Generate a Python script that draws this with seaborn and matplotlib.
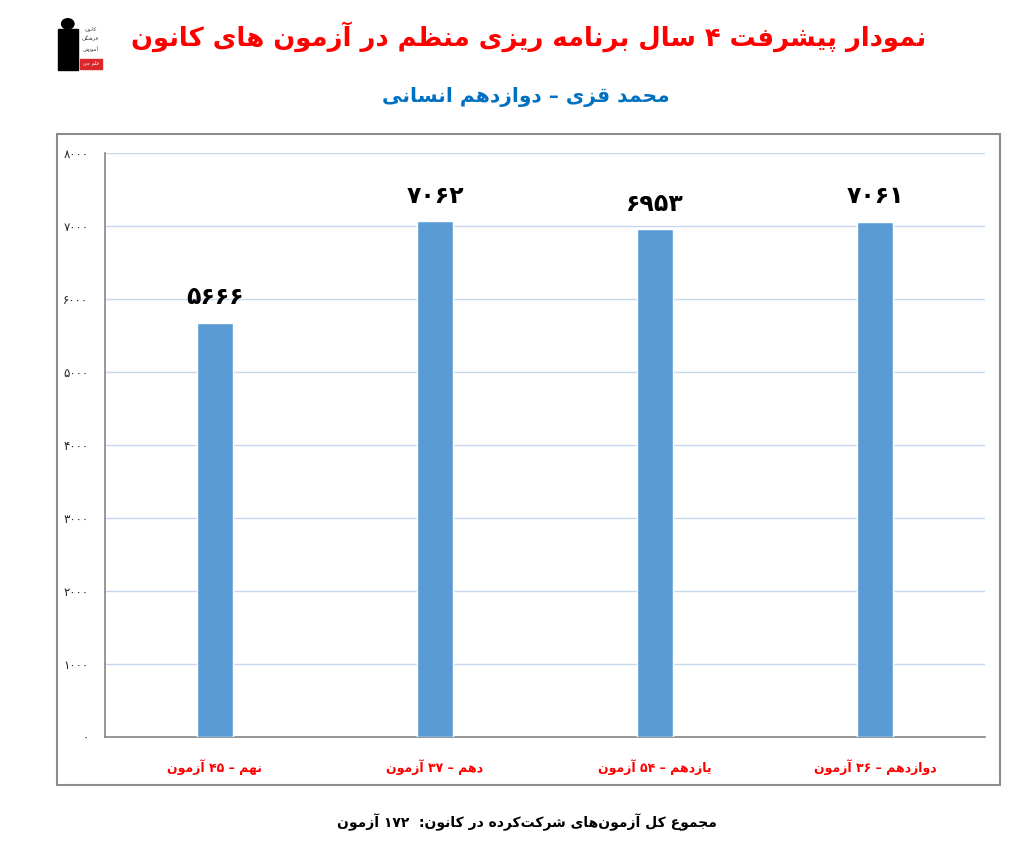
import re
import numpy as np
import pandas as pd
import matplotlib
matplotlib.use("Agg")
import matplotlib.pyplot as plt
import seaborn as sns
from matplotlib.patches import Rectangle, Circle

# داده‌ها
categories = ['نهم – ۴۵ آزمون', 'دهم – ۳۷ آزمون', 'یازدهم – ۵۴ آزمون', 'دوازدهم – ۳۶ آزمون']
scores = [5666, 7062, 6953, 7061]
yticks = [0, 1000, 2000, 3000, 4000, 5000, 6000, 7000, 8000]
title = 'نمودار پیشرفت ۴ سال برنامه ریزی منظم در آزمون های کانون'
subtitle = 'محمد قزی – دوازدهم انسانی'
footer = 'مجموع کل آزمون\u200cهای شرکت\u200cکرده در کانون:  ۱۷۲ آزمون'

# شکل‌دهی حروف فارسی (matplotlib خودش حروف را به هم نمی‌چسباند و راست به چپ نمی‌نویسد)
FORMS = {
    'ا': ('\uFE8D', '\uFE8E'), 'آ': ('\uFE81', '\uFE82'),
    'د': ('\uFEA9', '\uFEAA'), 'ر': ('\uFEAD', '\uFEAE'),
    'ز': ('\uFEAF', '\uFEB0'), 'و': ('\uFEED', '\uFEEE'),
    'ب': ('\uFE8F', '\uFE90', '\uFE91', '\uFE92'),
    'پ': ('\uFB56', '\uFB57', '\uFB58', '\uFB59'),
    'ت': ('\uFE95', '\uFE96', '\uFE97', '\uFE98'),
    'ج': ('\uFE9D', '\uFE9E', '\uFE9F', '\uFEA0'),
    'چ': ('\uFB7A', '\uFB7B', '\uFB7C', '\uFB7D'),
    'ح': ('\uFEA1', '\uFEA2', '\uFEA3', '\uFEA4'),
    'س': ('\uFEB1', '\uFEB2', '\uFEB3', '\uFEB4'),
    'ش': ('\uFEB5', '\uFEB6', '\uFEB7', '\uFEB8'),
    'ظ': ('\uFEC5', '\uFEC6', '\uFEC7', '\uFEC8'),
    'ع': ('\uFEC9', '\uFECA', '\uFECB', '\uFECC'),
    'ف': ('\uFED1', '\uFED2', '\uFED3', '\uFED4'),
    'ق': ('\uFED5', '\uFED6', '\uFED7', '\uFED8'),
    'ک': ('\uFB8E', '\uFB8F', '\uFB90', '\uFB91'),
    'گ': ('\uFB92', '\uFB93', '\uFB94', '\uFB95'),
    'ل': ('\uFEDD', '\uFEDE', '\uFEDF', '\uFEE0'),
    'م': ('\uFEE1', '\uFEE2', '\uFEE3', '\uFEE4'),
    'ن': ('\uFEE5', '\uFEE6', '\uFEE7', '\uFEE8'),
    'ه': ('\uFEE9', '\uFEEA', '\uFEEB', '\uFEEC'),
    'ی': ('\uFBFC', '\uFBFD', '\uFBFE', '\uFBFF'),
}


def shape_run(run):
    out = []
    for i, ch in enumerate(run):
        if ch not in FORMS:
            continue  # نیم‌فاصله حذف می‌شود ولی اتصال را می‌شکند
        f = FORMS[ch]
        prev = run[i - 1] if i > 0 else ''
        nxt = run[i + 1] if i + 1 < len(run) else ''
        jp = prev in FORMS and len(FORMS[prev]) == 4
        jn = len(f) == 4 and nxt in FORMS
        if jp and jn:
            out.append(f[3])
        elif jp:
            out.append(f[1])
        elif jn:
            out.append(f[2])
        else:
            out.append(f[0])
    return ''.join(out)


def fa(s):
    shaped = re.sub('[\u0600-\u06EF\u200c]+', lambda m: shape_run(m.group()), s)
    rev = shaped[::-1]
    # اعداد چپ به راست می‌مانند
    return re.sub('[\u06F0-\u06F90-9]+', lambda m: m.group()[::-1], rev)


def fa_num(n):
    return str(n).translate(str.maketrans('0123456789', '۰۱۲۳۴۵۶۷۸۹'))


sns.set_style('white')
plt.rcParams['font.family'] = ['DejaVu Sans']

df = pd.DataFrame({'cat': [fa(c) for c in categories], 'score': scores})

fig = plt.figure(figsize=(10.35, 8.51), dpi=100)
ax = fig.add_axes([0.1014, 0.134, 0.8503, 0.6862])

sns.barplot(data=df, x='cat', y='score', color='#5b9bd5', saturation=1,
            width=0.165, ax=ax, zorder=3)

ax.set_xlim(-0.5, 3.5)
ax.set_ylim(0, 8000)
ax.set_yticks(yticks)
ax.set_yticklabels([fa_num(t) for t in yticks], fontsize=8.5, color='#222222')
ax.yaxis.grid(True, color='#c6d9f1', lw=1)
ax.set_axisbelow(True)
ax.set_xlabel('')
ax.set_ylabel('')

ax.set_xticks(range(len(categories)))
ax.set_xticklabels(df['cat'], fontsize=9, color='red', fontweight='bold')
ax.set_xticks(np.arange(-0.5, len(categories), 1), minor=True)
ax.tick_params(axis='x', which='major', length=0, pad=16)
ax.tick_params(axis='x', which='minor', length=6, color='#868686', width=1.2)
ax.tick_params(axis='y', length=5, color='#868686', width=1.2, pad=7)

for side in ['top', 'right']:
    ax.spines[side].set_visible(False)
for side in ['left', 'bottom']:
    ax.spines[side].set_color('#868686')
    ax.spines[side].set_linewidth(1.2)

ax.bar_label(ax.containers[0], labels=[fa_num(v) for v in scores], padding=10,
             fontsize=17, fontweight='bold', color='black')

# کادر دور نمودار
fig.patches.append(Rectangle((0.0551, 0.0776), 0.9111, 0.765, transform=fig.transFigure,
                             fill=False, edgecolor='#8c8c8c', lw=1.5))

# عنوان‌ها
fig.text(0.511, 0.9565, fa(title), color='red', fontsize=18.6, fontweight='bold',
         ha='center', va='center')
fig.text(0.508, 0.886, fa(subtitle), color='#0070c0', fontsize=14.5, fontweight='bold',
         ha='center', va='center')
fig.text(0.509, 0.034, fa(footer), color='black', fontsize=10, fontweight='bold',
         ha='center', va='center')

# لوگوی ساده کانون
fig.patches.append(Rectangle((0.056, 0.918), 0.019, 0.048, transform=fig.transFigure,
                             color='black'))
fig.patches.append(Circle((0.0655, 0.972), 0.006, transform=fig.transFigure, color='black'))
fig.patches.append(Rectangle((0.077, 0.919), 0.022, 0.012, transform=fig.transFigure,
                             color='#d9262b'))
for yy, w in [(0.966, 'کانون'), (0.954, 'فرهنگی'), (0.942, 'آموزش')]:
    fig.text(0.0875, yy, fa(w), fontsize=3.8, color='#333333', ha='center', va='center')
fig.text(0.0875, 0.925, fa('قلم چی'), fontsize=3.5, color='white', ha='center', va='center')

fig.savefig('out.png', dpi=100)
